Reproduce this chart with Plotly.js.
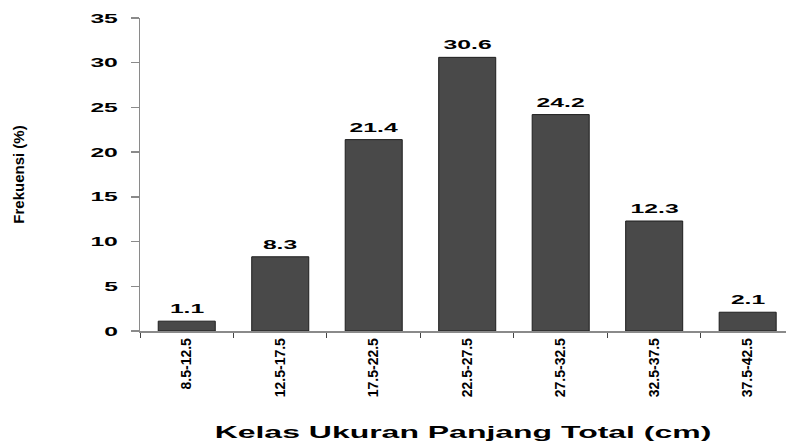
<!DOCTYPE html>
<html>
<head>
<meta charset="utf-8">
<script src="https://cdn.plot.ly/plotly-3.0.1.min.js"></script>
<style>
  html, body { margin: 0; padding: 0; background: #fff; }
  #chart { width: 786px; height: 444px; }
</style>
</head>
<body>
<div id="chart"></div>
<script>
// Frequency distribution of total length classes
const kelas = ['8.5-12.5', '12.5-17.5', '17.5-22.5', '22.5-27.5', '27.5-32.5', '32.5-37.5', '37.5-42.5'];
const frekuensi = [1.1, 8.3, 21.4, 30.6, 24.2, 12.3, 2.1];
const yTicks = [0, 5, 10, 15, 20, 25, 30, 35];

const FONT = 'Liberation Sans, Arial, sans-serif';
const AXIS_GREY = '#8a8a8a';

const trace = {
  type: 'bar',
  x: kelas,
  y: frekuensi,
  marker: { color: '#494949', line: { color: '#1e1e1e', width: 1 } },
  hoverinfo: 'skip'
};

// value labels sit on top of each bar
const labels = kelas.map((k, i) => ({
  x: k, y: frekuensi[i], xref: 'x', yref: 'y',
  text: frekuensi[i].toFixed(1),
  showarrow: false, yanchor: 'bottom', yshift: 3,
  font: { family: FONT, size: 13, color: '#000', weight: 'bold' }
}));

const layout = {
  width: 786, height: 444,
  margin: { l: 140, r: 0, t: 18, b: 113, pad: 0 },
  paper_bgcolor: '#fff', plot_bgcolor: '#fff',
  showlegend: false,
  bargap: 0.39,
  xaxis: {
    type: 'category',
    range: [-0.5, 6.41],
    showline: true, linecolor: AXIS_GREY, linewidth: 1.5,
    ticks: 'outside', tickson: 'boundaries', ticklen: 5, tickcolor: '#444', tickwidth: 1,
    tickangle: -90,
    tickfont: { family: FONT, size: 14, color: '#000', weight: 'bold' },
    showgrid: false, zeroline: false,
    title: { text: 'Kelas Ukuran Panjang Total (cm)', standoff: 30,
             font: { family: FONT, size: 17, color: '#000', weight: 'bold' } },
    automargin: false
  },
  yaxis: {
    range: [0, 35],
    tickvals: yTicks,
    showline: true, linecolor: AXIS_GREY, linewidth: 1.5,
    ticks: 'outside', ticklen: 8, tickcolor: AXIS_GREY, tickwidth: 1.5,
    ticklabelstandoff: 10,
    tickfont: { family: FONT, size: 13, color: '#000', weight: 'bold' },
    showgrid: false, zeroline: false,
    title: { text: 'Frekuensi (%)', standoff: 75,
             font: { family: FONT, size: 15, color: '#000', weight: 'bold' } },
    automargin: false
  },
  annotations: labels
};

// widen horizontal lettering, as in the printed figure
function widen(selector, k) {
  document.querySelectorAll(selector).forEach(t => {
    const w = t.getComputedTextLength();
    if (w > 0) {
      t.setAttribute('textLength', (w * k).toFixed(1));
      t.setAttribute('lengthAdjust', 'spacingAndGlyphs');
    }
  });
}

Plotly.newPlot('chart', [trace], layout, { staticPlot: true, displayModeBar: false }).then(() => {
  widen('#chart .ytick text', 1.9);
  widen('#chart .g-xtitle text', 1.88);
  widen('#chart .annotation-text', 1.9);
});
</script>
</body>
</html>
